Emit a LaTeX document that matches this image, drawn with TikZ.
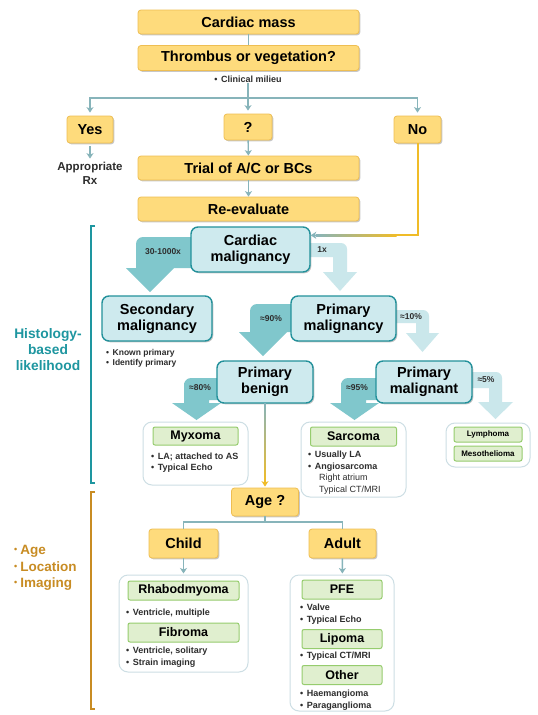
\documentclass[tikz,border=0pt]{standalone}
\usepackage{fontspec}
\setmainfont{Liberation Sans}
\usepackage{xcolor}
\definecolor{cmyellow}{RGB}{254,219,124}
\definecolor{cmgold}{RGB}{238,190,82}
\definecolor{cmtealfill}{RGB}{206,234,238}
\definecolor{cmtealedge}{RGB}{35,145,155}
\definecolor{cmfatmid}{RGB}{128,199,204}
\definecolor{cmfatlight}{RGB}{202,231,235}
\definecolor{cmline}{RGB}{135,180,186}
\definecolor{cmyline}{RGB}{240,188,40}
\definecolor{cmgreen}{RGB}{150,204,110}
\definecolor{cmgreenfill}{RGB}{224,239,207}
\definecolor{cmframe}{RGB}{205,222,228}
\definecolor{cmtext}{RGB}{45,45,45}
\definecolor{cmhist}{RGB}{30,150,160}
\definecolor{cmage}{RGB}{200,140,35}
\usetikzlibrary{arrows.meta,shadows,calc}
\newcommand\cmbullet{\textbullet\hspace{3.5pt}}
\newcommand\agebullet{\raisebox{2pt}{\fontsize{9}{9}\selectfont\textbullet}\hspace{3pt}}

\begin{document}
\begin{tikzpicture}[x=1pt, y=-1pt,
    ybox/.style={draw=cmgold, fill=cmyellow, rounded corners=3pt, line width=0.8pt,
                 inner sep=0pt, font=\fontsize{14.5}{16}\selectfont\bfseries,
                 drop shadow={shadow xshift=1.3pt, shadow yshift=-1.3pt, fill=black, opacity=0.22}},
    tbox/.style={draw=cmtealedge, fill=cmtealfill, rounded corners=7pt, line width=1.4pt,
                 inner sep=0pt, align=center, font=\fontsize{14.5}{16}\selectfont\bfseries,
                 drop shadow={shadow xshift=1.3pt, shadow yshift=-1.3pt, fill=black, opacity=0.22}},
    gbox/.style={draw=cmgreen, fill=cmgreenfill, rounded corners=2pt, line width=1pt,
                 inner sep=0pt, font=\fontsize{12.5}{14}\selectfont\bfseries},
    sgbox/.style={gbox, font=\fontsize{8}{9}\selectfont\bfseries},
    cont/.style={draw=cmframe, fill=white, rounded corners=9pt, line width=1pt},
    note/.style={anchor=north west, inner sep=0pt, align=left, text=cmtext,
                 font=\fontsize{9}{11.5}\selectfont\bfseries},
    pct/.style={inner sep=0pt, text=cmtext, font=\fontsize{8.5}{10}\selectfont\bfseries},
    conn/.style={draw=cmline, line width=1.4pt},
    arr/.style={conn, -{Stealth[length=5.5pt, width=7pt, inset=1.5pt]}},
    yline/.style={draw=cmyline, line width=2pt},
    yarr/.style={yline, -{Stealth[length=5.5pt, width=7pt, inset=1.5pt]}},
    fatmid/.style={fill=cmfatmid},
    fatlight/.style={fill=cmfatlight},
    brk/.style={line width=2pt}
  ]
    \fill[white] (0,0) rectangle (538,715);
    \useasboundingbox (0,0) rectangle (538,715);

    % Likelihood arrows (drawn first, boxes sit on top)
    \fill[fatmid] (180,237) [rounded corners=7pt] -- (136,237) -- (136,252) [sharp corners]
      -- (136,268) -- (126,268) -- (150,292) -- (174,268) -- (164,268) -- (200,268) -- (200,237) -- cycle;
    \fill[fatlight] (300,243) -- (337,243) [rounded corners=6pt] -- (347,243) -- (347,258) [sharp corners]
      -- (347,272) -- (357,272) -- (340,291) -- (323,272) -- (333,272) -- (333,257) -- (300,257) -- cycle;
    \fill[fatmid] (280,304) [rounded corners=7pt] -- (250,304) -- (250,318) [sharp corners]
      -- (250,332) -- (239,332) -- (263,356) -- (287,332) -- (275,332) -- (300,332) -- (300,304) -- cycle;
    \fill[fatlight] (390,310) -- (419,310) [rounded corners=6pt] -- (429,310) -- (429,322) [sharp corners]
      -- (429,333) -- (439,333) -- (422.5,352) -- (406,333) -- (416,333) -- (416,323) -- (390,323) -- cycle;
    \fill[fatmid] (205,378) [rounded corners=7pt] -- (184,378) -- (184,390) [sharp corners]
      -- (184,403) -- (172,403) -- (196.5,420) -- (221,403) -- (209,403) -- (209,400) -- (225,400) -- (225,378) -- cycle;
    \fill[fatmid] (362,378) [rounded corners=7pt] -- (341,378) -- (341,390) [sharp corners]
      -- (341,403) -- (330,403) -- (354.5,420) -- (379,403) -- (366,403) -- (366,400) -- (385,400) -- (385,378) -- cycle;
    \fill[fatlight] (465,372) -- (492,372) [rounded corners=6pt] -- (502,372) -- (502,388) [sharp corners]
      -- (502,402) -- (513,402) -- (495.5,419) -- (478,402) -- (489,402) -- (489,388) -- (465,388) -- cycle;

    % Likelihood labels
    \node[pct] (l30) at (163,252) {30-1000x};
    \node[pct] (l1) at (322,250) {1x};
    \node[pct] (l90) at (271,319) {≈90\%};
    \node[pct] (l10) at (411,317) {≈10\%};
    \node[pct] (l80) at (200,388) {≈80\%};
    \node[pct] (l95) at (357,388) {≈95\%};
    \node[pct] (l5) at (486,380) {≈5\%};

    % Thrombus or vegetation
    \node[ybox, minimum width=221pt, minimum height=24pt] (mass) at (248.5,22) {Cardiac mass};
    \node[ybox, minimum width=221pt, minimum height=25pt] (thromb) at (248.5,58) {Thrombus or vegetation?};
    \draw[conn] (mass) -- (thromb);
    \node[note, anchor=center] (milieu) at (248,79) {\cmbullet Clinical milieu};
    \coordinate (split) at (248,98);
    \draw[conn] (milieu.south) -- (split);

    \node[ybox, minimum width=46pt, minimum height=27pt] (yes) at (90,129.5) {Yes};
    \node[ybox, minimum width=48pt, minimum height=26pt] (unsure) at (248,127) {?};
    \node[ybox, minimum width=47pt, minimum height=27pt] (no) at (417.5,129.5) {No};
    \draw[arr, shorten >=3pt] (split) -| (yes.north);
    \draw[arr, shorten >=3pt] (split) -- (unsure.north);
    \draw[arr, shorten >=3pt] (split) -| (no.north);

    \node[inner sep=0pt, align=center, text=cmtext, font=\fontsize{11.5}{14}\selectfont\bfseries]
      (rx) at (90,173) {Appropriate\\Rx};
    \draw[arr, shorten <=3pt, shorten >=3pt] (yes.south) -- (rx.north);

    \node[ybox, minimum width=221pt, minimum height=24pt] (trial) at (248.5,168) {Trial of A/C or BCs};
    \node[ybox, minimum width=221pt, minimum height=24pt] (reeval) at (248.5,209) {Re-evaluate};
    \draw[arr] (unsure) -- (trial);
    \draw[arr] (trial) -- (reeval);

    % Histology-based likelihood
    \node[tbox, minimum width=119pt, minimum height=45pt] (cmal) at (250.5,249.5) {Cardiac\\malignancy};
    \coordinate (cin) at ([yshift=-9pt]cmal.north east);
    \coordinate (nocorner) at (no.south |- cin);
    \draw[yline] (no.south) -- (nocorner) -- ($(cin)+(85,0)$);
    \shade[left color=cmline, right color=cmyline] ($(cin)+(5,-1)$) rectangle ($(cin)+(86,1)$);
    \draw[arr] ($(cin)+(7,0)$) -- (cin);

    \node[tbox, minimum width=110pt, minimum height=45pt] (secm) at (157,318.5) {Secondary\\malignancy};
    \node[note, font=\fontsize{8.5}{10.5}\selectfont\bfseries] (secnote) at (106,349)
      {\cmbullet Known primary\\\cmbullet Identify primary};
    \node[tbox, minimum width=105pt, minimum height=45pt] (prim) at (343.5,318.5) {Primary\\malignancy};
    \node[tbox, minimum width=96pt, minimum height=42pt] (benign) at (265,382) {Primary\\benign};
    \node[tbox, minimum width=96pt, minimum height=42pt] (malig) at (424,382) {Primary\\malignant};

    \node[cont, minimum width=105pt, minimum height=63pt] (myxcont) at (195.5,453.5) {};
    \node[gbox, minimum width=85pt, minimum height=18pt] (myxoma) at (195.5,436) {Myxoma};
    \node[note] (myxnote) at (151,452.5) {\cmbullet LA; attached to AS\\\cmbullet Typical Echo};

    \node[cont, minimum width=105pt, minimum height=75pt] (sarcont) at (353.5,459.5) {};
    \node[gbox, minimum width=86pt, minimum height=19pt] (sarcoma) at (353.5,436.5) {Sarcoma};
    \node[note] (sarcnote) at (308,451)
      {\cmbullet Usually LA\\\cmbullet Angiosarcoma\\
       \hspace*{11pt}{\mdseries Right atrium}\\\hspace*{11pt}{\mdseries Typical CT/MRI}};

    \node[cont, minimum width=84pt, minimum height=44pt] (lymcont) at (488,445) {};
    \node[sgbox, minimum width=68pt, minimum height=15pt] (lymph) at (488,434.5) {Lymphoma};
    \node[sgbox, minimum width=68pt, minimum height=15pt] (meso) at (488,453.5) {Mesothelioma};

    \draw[brk, cmhist] (95,226) -- (91,226) -- (91,483) -- (95,483);
    \node[inner sep=0pt, align=center, text=cmhist, font=\fontsize{13.8}{16}\selectfont\bfseries]
      (histo) at (48,350) {Histology-\\based\\likelihood};

    % Age, location, imaging
    \node[ybox, minimum width=67pt, minimum height=28pt] (age) at (265,502) {Age ?};
    \shade[top color=cmline, bottom color=cmyline] ([xshift=-0.8pt]benign.south) rectangle ([xshift=0.8pt, yshift=6pt]age.north);
    \draw[yarr, line width=1.6pt, shorten >=1pt] ([yshift=7pt]age.north) -- (age.north);

    \node[ybox, minimum width=69pt, minimum height=29pt] (child) at (183.5,543.5) {Child};
    \node[ybox, minimum width=67pt, minimum height=29pt] (adult) at (342.5,543.5) {Adult};
    \coordinate (agesplit) at (265,522);
    \draw[conn] (age.south) -- (agesplit);
    \draw[conn] (agesplit) -| (child.north);
    \draw[conn] (agesplit) -| (adult.north);

    \node[cont, minimum width=129pt, minimum height=97pt] (rhabcont) at (183.5,623.5) {};
    \draw[arr, shorten >=1pt] (child) -- (rhabcont);
    \node[gbox, minimum width=111pt, minimum height=19pt] (rhabdo) at (183.5,590.5) {Rhabodmyoma};
    \node[note] (rhabnote) at (126,609) {\cmbullet Ventricle, multiple};
    \node[gbox, minimum width=111pt, minimum height=19pt] (fibroma) at (183.5,632.5) {Fibroma};
    \node[note] (fibnote) at (126,647) {\cmbullet Ventricle, solitary\\\cmbullet Strain imaging};

    \node[cont, minimum width=104pt, minimum height=136pt] (adultcont) at (342,643) {};
    \draw[arr, shorten >=1pt] (adult) -- (adultcont);
    \node[gbox, minimum width=80pt, minimum height=19pt] (pfe) at (342,589.5) {PFE};
    \node[note] (pfenote) at (300,604) {\cmbullet Valve\\\cmbullet Typical Echo};
    \node[gbox, minimum width=80pt, minimum height=19pt] (lipoma) at (342,639) {Lipoma};
    \node[note] (lipnote) at (300,652) {\cmbullet Typical CT/MRI};
    \node[gbox, minimum width=80pt, minimum height=19pt] (other) at (342,675) {Other};
    \node[note] (othnote) at (300,690) {\cmbullet Haemangioma\\\cmbullet Paraganglioma};

    \draw[brk, cmage] (95,492) -- (91,492) -- (91,709) -- (95,709);
    \node[anchor=west, inner sep=0pt, align=left, text=cmage, font=\fontsize{13.5}{16.5}\selectfont\bfseries]
      (aliinfo) at (14,568)
      {\agebullet Age\\\agebullet Location\\\agebullet Imaging};
  \end{tikzpicture}
\end{document}
